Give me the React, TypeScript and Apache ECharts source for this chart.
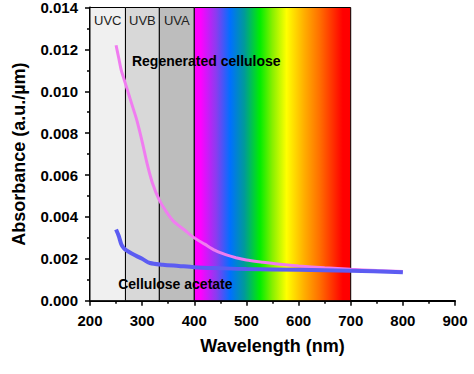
import React, { useEffect, useRef } from "react";
import * as echarts from "echarts";

const regenWavelength = [250, 255, 260, 265, 270, 280, 290, 300, 310, 320, 333, 345, 360, 380, 400, 420, 440, 460, 480, 500, 530, 560, 600, 650, 700, 750, 800];
const regenAbs = [0.0122, 0.0116, 0.0110, 0.0106, 0.0102, 0.0094, 0.0086, 0.0076, 0.0065, 0.0056, 0.0048, 0.0043, 0.0038, 0.0034, 0.0030, 0.0027, 0.0024, 0.0022, 0.00205, 0.00194, 0.00184, 0.00175, 0.00166, 0.00157, 0.00150, 0.00144, 0.00140];

const acetateWavelength = [250, 255, 260, 265, 270, 280, 300, 315, 340, 370, 400, 450, 500, 600, 700, 800];
const acetateAbs = [0.0034, 0.0031, 0.0027, 0.0025, 0.0024, 0.00225, 0.0020, 0.0018, 0.00172, 0.00166, 0.0016, 0.00155, 0.00151, 0.00148, 0.00143, 0.00136];

const bandNames = ["UVC", "UVB", "UVA"];
const bandStarts = [200, 268, 333];
const bandEnds = [268, 333, 400];
const bandColors = ["#f0f0f0", "#d8d8d8", "#bdbdbd"];
const visibleRange = [400, 700];
const bandTop = 0.014;

const annotationTexts = ["Regenerated cellulose", "Cellulose acetate"];
const annotationPoints = [[280.5, 0.01146], [254, 0.0008]];

const FONT = "'Liberation Sans', Arial, Helvetica, sans-serif";

export default function App() {
  const ref = useRef<HTMLDivElement>(null);
  useEffect(() => {
    document.body.style.margin = "0";
    const chart = echarts.init(ref.current!, null, { renderer: "svg" });
    const markData: any[] = bandNames.map((n, i) => [
      {
        name: n,
        coord: [bandStarts[i], 0],
        itemStyle: { color: bandColors[i], borderColor: "#000", borderWidth: 1 },
      },
      { coord: [bandEnds[i], bandTop] },
    ]);
    markData.push([
      {
        name: "",
        coord: [visibleRange[0], 0],
        itemStyle: {
          color: {
            type: "linear",
            x: 0, y: 0, x2: 1, y2: 0,
            colorStops: [
              { offset: 0, color: "#ff00ff" },
              { offset: 0.04, color: "#ff00ff" },
              { offset: 0.14, color: "#8a3cf0" },
              { offset: 0.23, color: "#0070ff" },
              { offset: 0.32, color: "#009a9a" },
              { offset: 0.42, color: "#00ee00" },
              { offset: 0.5, color: "#88f000" },
              { offset: 0.59, color: "#ffff00" },
              { offset: 0.7, color: "#ffb000" },
              { offset: 0.8, color: "#ff7000" },
              { offset: 0.95, color: "#ff0000" },
              { offset: 1, color: "#ff0000" },
            ],
          },
          borderColor: "#000",
          borderWidth: 1,
        },
      },
      { coord: [visibleRange[1], bandTop] },
    ]);

    chart.setOption({
      animation: false,
      grid: { left: 90, right: 19, top: 7.4, bottom: 73.3 },
      xAxis: {
        type: "value",
        min: 200,
        max: 900,
        interval: 100,
        name: "Wavelength (nm)",
        nameLocation: "middle",
        nameGap: 36,
        nameTextStyle: { fontFamily: FONT, fontWeight: "bold", fontSize: 18, color: "#000" },
        axisLine: { onZero: false, lineStyle: { color: "#000", width: 2 } },
        axisTick: { show: true, length: 5, lineStyle: { color: "#000", width: 1.5 } },
        minorTick: { show: true, splitNumber: 2, length: 3, lineStyle: { color: "#000", width: 1.5 } },
        axisLabel: { fontFamily: FONT, fontWeight: "bold", fontSize: 15, color: "#000", margin: 12 },
        splitLine: { show: false },
      },
      yAxis: {
        type: "value",
        min: 0,
        max: 0.014,
        interval: 0.002,
        name: "Absorbance (a.u./µm)",
        nameLocation: "middle",
        nameGap: 62,
        nameTextStyle: { fontFamily: FONT, fontWeight: "bold", fontSize: 18, color: "#000" },
        axisLine: { show: true, lineStyle: { color: "#000", width: 2 } },
        axisTick: { show: true, length: 5, lineStyle: { color: "#000", width: 1.5 } },
        minorTick: { show: true, splitNumber: 2, length: 3, lineStyle: { color: "#000", width: 1.5 } },
        axisLabel: {
          fontFamily: FONT, fontWeight: "bold", fontSize: 15, color: "#000", margin: 12,
          formatter: (v: number) => v.toFixed(3),
        },
        splitLine: { show: false },
      },
      series: [
        {
          type: "line",
          name: "bands",
          data: [],
          z: 1,
          silent: true,
          markArea: {
            silent: true,
            label: {
              show: true,
              position: "insideTop",
              distance: 7,
              fontFamily: FONT,
              fontSize: 13,
              color: "#222",
            },
            data: markData,
          },
        },
        {
          type: "line",
          name: "Regenerated cellulose",
          data: regenWavelength.map((w, i) => [w, regenAbs[i]]),
          showSymbol: false,
          smooth: 0.3,
          z: 3,
          lineStyle: { color: "#f07cf0", width: 3 },
        },
        {
          type: "line",
          name: "Cellulose acetate",
          data: acetateWavelength.map((w, i) => [w, acetateAbs[i]]),
          showSymbol: false,
          smooth: 0.3,
          z: 4,
          lineStyle: { color: "#5c5cf2", width: 4 },
        },
        {
          type: "scatter",
          name: "annotations",
          symbolSize: 0,
          z: 6,
          silent: true,
          itemStyle: { opacity: 1 },
          data: annotationPoints.map((p, i) => ({ value: p, name: annotationTexts[i] })),
          label: {
            show: true,
            position: "right",
            distance: 0,
            opacity: 1,
            formatter: (p: any) => p.name,
            fontFamily: FONT,
            fontWeight: "bold",
            fontSize: 14,
            color: "#000",
          },
        },
      ],
    });
    return () => chart.dispose();
  }, []);
  return <div ref={ref} style={{ width: 474, height: 374 }} />;
}
